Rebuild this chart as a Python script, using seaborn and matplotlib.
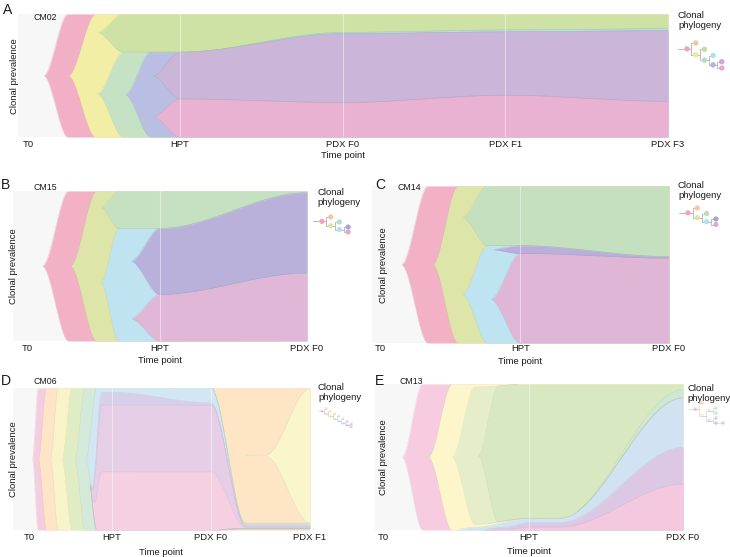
import numpy as np
import matplotlib
matplotlib.use("Agg")
import matplotlib.pyplot as plt
from matplotlib.colors import to_rgb
import seaborn as sns

W, H = 730, 557

# time axis: T0 = 0, HPT = 1, PDX F0 = 2, PDX F1 = 3, PDX F3 = 4
# each clone: knot times and prevalence (%) at those knots

# ---- A / CM02 ----
A_clone = ["root", "yel", "grn", "teal", "lblue", "peri", "purp", "pink"]
A_parent = [None, "root", "yel", "yel", "teal", "teal", "peri", "peri"]
A_color = ["#f2b0c6", "#f3eea6", "#cee2a6", "#c5e2c5", "#b8e0ef", "#b8bfe2", "#cbb5d8", "#e9b2d3"]
A_time = [[0.16, 0.31, 4], [0.31, 0.48, 4], [0.49, 0.65, 1, 2, 3, 4], [0.49, 0.65, 1, 2, 3, 4],
          [1, 2, 3, 4], [0.66, 0.82, 1, 2, 3, 4], [0.83, 1, 2, 3, 4], [0.83, 1, 2, 3, 4]]
A_frac = [[0, 100, 100], [0, 100, 100], [0, 31, 31, 15, 13, 12], [0, 69, 69, 85, 87, 88],
          [0, 1, 1.5, 1.5], [0, 69, 69, 84, 85.5, 86.5], [0, 38, 56, 51.5, 57.5], [0, 31, 28, 34, 29]]
A_ticks = ["T0", "HPT", "PDX F0", "PDX F1", "PDX F3"]
A_tree = [-1, 0, 0, 2, 2, 4, 4, 6, 6]
A_tree_color = ["#f2a3bd", "#f6c59e", "#efe79c", "#bfe0a0", "#b6dfba", "#b3e0ef", "#aeb5e0", "#c9a9d6", "#eaa6cb"]

# ---- B / CM15 ----
B_clone = ["root", "lime", "grn", "lb", "purp", "pink"]
B_parent = [None, "root", "lime", "lime", "lb", "lb"]
B_color = ["#f3b1c6", "#dde6a8", "#c6e1c1", "#bfe3f1", "#b9b1d9", "#e1b7d7"]
B_time = [[0.2, 0.38, 2], [0.39, 0.57, 2], [0.6, 0.72, 1, 2], [0.6, 0.72, 1, 2], [0.8, 1, 2], [0.8, 1, 2]]
B_frac = [[0, 100, 100], [0, 100, 100], [0, 25, 25, 1], [0, 75, 75, 99], [0, 44, 53.5], [0, 31, 45]]
B_ticks = ["T0", "HPT", "PDX F0"]
B_tree = [-1, 0, 0, 2, 2, 4, 4]
B_tree_color = ["#f2a3bd", "#f6c59e", "#dde6a0", "#b6dfba", "#b3e0ef", "#aaa3d8", "#dfa9d0"]

# ---- C / CM14 ----
C_clone = ["root", "lime", "grn", "lb", "purp", "pink"]
C_parent = [None, "root", "lime", "lime", "lb", "lb"]
C_color = ["#f3b1c6", "#dde6a8", "#c4e0bf", "#bee3f1", "#bcaeda", "#e0b6d7"]
C_time = [[0.2, 0.38, 2], [0.41, 0.58, 2], [0.61, 0.78, 1, 2], [0.61, 0.78, 1, 2], [0.8, 1, 2], [0.8, 1, 2]]
C_frac = [[0, 100, 100], [0, 100, 100], [0, 38, 38, 45], [0, 62, 62, 55], [0, 5, 1], [0, 57, 54]]
C_ticks = ["T0", "HPT", "PDX F0"]
C_tree = [-1, 0, 0, 2, 2, 4, 4]
C_tree_color = B_tree_color

# ---- D / CM06 ----
D_clone = ["root", "orange", "yel2", "yel1", "lime", "mint", "lb", "lav", "mauve", "pink"]
D_parent = [None, "root", "orange", "orange", "yel1", "lime", "mint", "lb", "lav", "mauve"]
D_color = ["#f6cde0", "#fde5c6", "#f9f6cc", "#f8f3c9", "#e0ecc3", "#d3eadb", "#d2e6f4", "#d8cfe9", "#e6cfe6", "#f5d0e3"]
D_time = [[0.2, 0.26, 3], [0.26, 0.34, 3], [2, 2.3, 2.4, 2.55, 3], [0.38, 0.46, 2, 2.35, 3],
          [0.5, 0.6, 2, 2.35, 3], [0.63, 0.73, 2, 2.35, 3], [0.74, 0.85, 2, 2.35, 3],
          [0.78, 0.9, 1, 2, 2.35, 3], [0.78, 0.9, 2, 2.35, 3], [0.78, 0.9, 2, 2.35, 3]]
D_frac = [[0, 100, 100], [0, 100, 100], [0, 0, 0.5, 0.5, 95], [0, 100, 100, 5, 5],
          [0, 100, 100, 4.2, 4.2], [0, 100, 100, 3.4, 3.4], [0, 100, 100, 2.6, 2.6],
          [0, 97, 97, 89.5, 1.8, 1.8], [0, 88, 88, 1.2, 1.2], [0, 41, 41, 0.6, 0.6]]
D_ticks = ["T0", "HPT", "PDX F0", "PDX F1"]
D_tree = [-1, 0, 0, 2, 2, 4, 4, 6, 6, 8, 8, 10, 10, 12, 12]
D_tree_color = ["#f2a3bd", "#f6c59e", "#f6c59e", "#efe79c", "#efe79c", "#cde6a6", "#cde6a6",
                "#b6dfc6", "#b6dfc6", "#b3d6ef", "#b3d6ef", "#c4b6e2", "#c4b6e2", "#e6a9d2", "#e6a9d2"]

# ---- E / CM13 ----
E_clone = ["root", "yel", "lime", "grn", "mint", "lb", "purp", "pink"]
E_parent = [None, "root", "yel", "lime", "grn", "yel", "lb", "purp"]
E_color = ["#f7cce0", "#fdf6cb", "#e5eec8", "#d8e8c1", "#cfe7d5", "#d1e3f3", "#dcc8e4", "#f4c8df"]
E_time = [[0.175, 0.31, 2], [0.345, 0.5, 2], [0.5, 0.65, 1, 1.2, 2], [0.67, 0.8, 1, 1.2, 2],
          [1.2, 2], [0.5, 0.65, 1, 1.2, 2], [0.67, 0.85, 1, 1.2, 2], [0.84, 1, 1.2, 2]]
E_frac = [[0, 100, 100], [0, 100, 100], [0, 94, 92, 92, 9.5], [0, 93, 92, 92, 9.5],
          [0, 5.5], [0, 2, 8, 8, 90.5], [0, 2, 5, 5, 56.5], [0, 2, 2, 31.5]]
E_ticks = ["T0", "HPT", "PDX F0"]
E_tree = [-1, 0, 0, 2, 3, 3, 2, 6, 6, 8]
E_tree_color = ["#f2a3bd", "#f6c59e", "#efe79c", "#d6e8a6", "#bfe0a0", "#b6dfba", "#b3d6ef",
                "#c4b6e2", "#c9a9d6", "#eaa6cb"]


def smooth_interp(x, tk, fk):
    out = np.full(x.shape, np.nan)
    for a, b, fa, fb in zip(tk[:-1], tk[1:], fk[:-1], fk[1:]):
        m = (x >= a) & (x <= b)
        s = (x[m] - a) / (b - a)
        out[m] = fa + (fb - fa) * s * s * (3 - 2 * s)
    out[x > tk[-1]] = fk[-1]
    return out


def fish_layout(x, names, parents, times, fracs, weights):
    n = len(names)
    f = np.array([smooth_interp(x, times[i], fracs[i]) for i in range(n)])
    lo = np.full(f.shape, np.nan)
    hi = np.full(f.shape, np.nan)
    kids = [[j for j in range(n) if parents[j] == names[i]] for i in range(n)]
    for i in range(n):
        if parents[i] is None:
            hi[i] = 50 + f[i] / 2
            lo[i] = 50 - f[i] / 2
    for i in range(n):
        if not kids[i]:
            continue
        wcfg = weights.get(names[i])
        for k in range(len(x)):
            if np.isnan(f[i, k]):
                continue
            live = [j for j in kids[i] if not np.isnan(f[j, k])]
            if not live:
                continue
            tot = sum(f[j, k] for j in live)
            if tot > f[i, k] and tot > 0:
                for j in live:
                    f[j, k] *= f[i, k] / tot
                tot = f[i, k]
            own = f[i, k] - tot
            if wcfg is not None and len(wcfg) == len(live) + 1:
                w = np.asarray(wcfg, float)
            else:
                w = np.ones(len(live) + 1)
            w = w / w.sum()
            cur = hi[i, k]
            for g, j in zip(w, live):
                cur -= own * g
                hi[j, k] = cur
                cur -= f[j, k]
                lo[j, k] = cur
    return f, lo, hi


def draw_fish(ax, p):
    tmax = len(p["ticks"]) - 1
    knots = np.concatenate([np.asarray(t, float) for t in p["time"]])
    x = np.union1d(np.linspace(0, tmax, 1400), knots)
    f, lo, hi = fish_layout(x, p["clone"], p["parent"], p["time"], p["frac"], p["weights"])
    for i, c in enumerate(p["color"]):
        ok = ~np.isnan(lo[i])
        ax.fill_between(x, lo[i], hi[i], where=ok, color=c, lw=0, zorder=2 + i * 0.01)
        edge = np.array(to_rgb(c)) * 0.88
        show = ok & (f[i] > 0.3)
        for yb in (hi[i], lo[i]):
            yy = np.where(show & (yb < 99.8) & (yb > 0.2), yb, np.nan)
            ax.plot(x, yy, color=edge, lw=0.4, alpha=0.5, zorder=2.5 + i * 0.01)
    for t in range(1, tmax):
        ax.axvline(t, color="white", lw=0.8, alpha=0.45, zorder=5)
    ax.set_xlim(0, tmax)
    ax.set_ylim(0, 100)


def tree_xy(parents, x0, dx, y0, s):
    n = len(parents)
    kids = [[j for j in range(n) if parents[j] == i] for i in range(n)]
    xs, ys = [0.0] * n, [0.0] * n
    count = [0]

    def visit(i, d):
        xs[i] = x0 + dx * d
        if not kids[i]:
            ys[i] = y0 + count[0] * s
            count[0] += 1
        else:
            for c in kids[i]:
                visit(c, d + 1)
            ys[i] = np.mean([ys[c] for c in kids[i]])

    visit(0, 0)
    return np.array(xs), np.array(ys)


panels = [
    dict(tag="A", sample="CM02", clone=A_clone, parent=A_parent, color=A_color, time=A_time,
         frac=A_frac, ticks=A_ticks, weights={"yel": [0.15, 0.5, 0.35], "peri": [0.28, 0.48, 0.24]},
         box=(17.5, 14, 668, 137), t0=0.065, letter=(7.5, 9.5), cm=(33, 18), ylab=(14.5, 76),
         tick_y=145, xlab_y=155.5, phylo=(678, 13),
         tree=A_tree, tree_color=A_tree_color, tree_geo=(687, 8.7, 43, 6.25, 15, 1.0)),
    dict(tag="B", sample="CM15", clone=B_clone, parent=B_parent, color=B_color, time=B_time,
         frac=B_frac, ticks=B_ticks, weights={"lime": [0.11, 0.5, 0.39], "lb": [0.29, 0.51, 0.2]},
         box=(12.7, 191, 307, 341), t0=0.1, letter=(6, 185), cm=(33, 187), ylab=(13.5, 266),
         tick_y=349, xlab_y=360.5, phylo=(317, 190),
         tree=B_tree, tree_color=B_tree_color, tree_geo=(322, 8.7, 217, 5, 14, 1.0)),
    dict(tag="C", sample="CM14", clone=C_clone, parent=C_parent, color=C_color, time=C_time,
         frac=C_frac, ticks=C_ticks, weights={"lime": [0.2, 0.49, 0.31], "lb": [0.04, 0.51, 0.45]},
         box=(371.5, 186, 669, 343), t0=0.057, letter=(380, 185), cm=(397, 187), ylab=(383.5, 265),
         tick_y=349.5, xlab_y=361, phylo=(678, 183),
         tree=C_tree, tree_color=C_tree_color, tree_geo=(688, 9.3, 208, 5.5, 14, 1.0)),
    dict(tag="D", sample="CM06", clone=D_clone, parent=D_parent, color=D_color, time=D_time,
         frac=D_frac, ticks=D_ticks,
         weights={"orange": [1, 1, 0], "lb": [1, 0], "lav": [1, 0], "mauve": [1, 0]},
         box=(12.5, 388, 310, 530), t0=0.166, letter=(6, 381), cm=(33, 381), ylab=(13.5, 459),
         tick_y=538.5, xlab_y=552.5, phylo=(318, 385),
         tree=D_tree, tree_color=D_tree_color, tree_geo=(322, 4.2, 408.5, 2.6, 4, 0.55)),
    dict(tag="E", sample="CM13", clone=E_clone, parent=E_parent, color=E_color, time=E_time,
         frac=E_frac, ticks=E_ticks,
         weights={"yel": [1, 1, 0], "grn": [1, 0], "lb": [1, 0], "purp": [1, 0]},
         box=(375, 384, 683, 530), t0=0.055, letter=(380, 381), cm=(400, 381.5), ylab=(383.5, 457),
         tick_y=538.5, xlab_y=552, phylo=(687, 386),
         tree=E_tree, tree_color=E_tree_color, tree_geo=(695, 7, 403, 5, 7, 0.55)),
]

sns.set_theme(style="white")
plt.rcParams["font.family"] = ["Liberation Sans", "DejaVu Sans"]
FS = 6.8
TXT = "#1a1a1a"

fig = plt.figure(figsize=(W / 100, H / 100), dpi=100)

for p in panels:
    l, t, r, b = p["box"]
    ax = fig.add_axes([l / W, 1 - b / H, (r - l) / W, (b - t) / H])
    ax.set_facecolor("#f7f7f7")
    draw_fish(ax, p)
    sns.despine(ax=ax, left=True, bottom=True)
    ax.set_yticks([])
    pos = [p["t0"]] + list(range(1, len(p["ticks"])))
    ax.set_xticks(pos)
    ax.set_xticklabels(p["ticks"], fontsize=FS, color=TXT)
    ax.tick_params(axis="x", length=0, pad=(p["tick_y"] - b - 5.1) * 0.72)
    ax.grid(False)
    ax.set_ylabel("Clonal prevalence", fontsize=FS, color=TXT, va="center")
    ax.yaxis.set_label_coords(p["ylab"][0] / W, 1 - p["ylab"][1] / H, transform=fig.transFigure)
    ax.set_xlabel("Time point", fontsize=FS, color=TXT, va="center")
    ax.xaxis.set_label_coords((l + r) / 2 / W, 1 - p["xlab_y"] / H, transform=fig.transFigure)

# overlay for panel letters, sample ids and phylogeny icons (pixel coords)
ov = fig.add_axes([0, 0, 1, 1], zorder=20)
ov.set_xlim(0, W)
ov.set_ylim(H, 0)
ov.axis("off")
ov.patch.set_alpha(0)

for p in panels:
    ov.text(*p["letter"], p["tag"], fontsize=10, color=TXT, ha="center", va="center")
    ov.text(*p["cm"], p["sample"], fontsize=6.3, color=TXT, ha="left", va="center")
    ov.text(p["phylo"][0], p["phylo"][1] - 2, "Clonal\nphylogeny", fontsize=FS, color=TXT,
            ha="left", va="top", linespacing=1.15)
    x0, dx, y0, s, size, alpha = p["tree_geo"]
    par = p["tree"]
    xs, ys = tree_xy(par, x0, dx, y0, s)
    lw = 0.7 if alpha > 0.9 else 0.5
    ov.plot([x0 - dx, xs[0]], [ys[0], ys[0]], color="#bbbbbb", lw=lw, alpha=alpha, zorder=1)
    for c, pa in enumerate(par):
        if pa < 0:
            continue
        xm = (xs[pa] + xs[c]) / 2
        ov.plot([xs[pa], xm, xm, xs[c]], [ys[pa], ys[pa], ys[c], ys[c]],
                color="#bbbbbb", lw=lw, alpha=alpha, zorder=1)
    ov.scatter(xs, ys, s=size, c=p["tree_color"], alpha=alpha, lw=0, zorder=2)

fig.savefig("out.png", dpi=100)
